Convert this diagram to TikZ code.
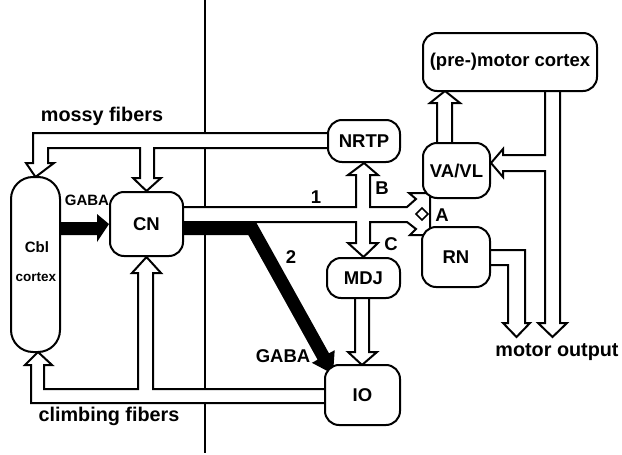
\documentclass[tikz,border=0pt]{standalone}
\usepackage{fontspec}
\setmainfont{Liberation Sans}
\pgfdeclarelayer{back}
\pgfdeclarelayer{bg}
\pgfsetlayers{back,bg,main}
\begin{document}
\begin{tikzpicture}[x=1pt,y=-1pt,line width=2pt,line join=miter,
  bigfont/.style={font=\bfseries\fontsize{18.5}{20}\selectfont},
  box/.style={draw,fill=white,line width=2pt,rounded corners=14pt,inner sep=0pt,bigfont},
  band/.style={draw=black,fill=white,line width=2pt,line join=miter},
  blackband/.style={fill=black},
  lab/.style={inner sep=0pt,bigfont},
  widelab/.style={inner sep=0pt,font=\bfseries\fontsize{19.8}{21}\selectfont},
  smalllab/.style={inner sep=0pt,font=\bfseries\fontsize{15}{17}\selectfont}]
\useasboundingbox (0,0) rectangle (622,455);

% nodes
\node[box,rounded corners=22pt,minimum width=49pt,minimum height=175pt] (Cbl) at (35.5,264.5) {};
\node[smalllab] (cbltxt) at (37,247) {Cbl};
\node[inner sep=0pt,font=\bfseries\fontsize{13.5}{15}\selectfont] (cortextxt) at (36,277) {cortex};
\node[box,minimum width=73pt,minimum height=64pt] (CN) at (146.5,224) {CN};
\node[box,minimum width=72pt,minimum height=42pt] (NRTP) at (364,141) {NRTP};
\node[box,minimum width=73pt,minimum height=40pt] (MDJ) at (363.5,278) {MDJ};
\node[box,minimum width=75pt,minimum height=60pt] (IO) at (362.5,395) {IO};
\node[box,minimum width=67pt,minimum height=55pt] (VAVL) at (456.5,170.5) {VA/VL};
\node[box,minimum width=68pt,minimum height=60pt] (RN) at (456,257) {RN};
\node[box,minimum width=174pt,minimum height=58pt] (PM) at (510,62) {(pre-)motor cortex};

% labels
\node[widelab] (mossy) at (102,116) {mossy fibers};
\node[widelab] (climbing) at (109,416) {climbing fibers};
\node[smalllab] (gaba1) at (87,200) {GABA};
\node[lab] (gaba2) at (283,356) {GABA};
\node[lab] (one) at (316,197) {1};
\node[lab] (two) at (291,257) {2};
\node[lab] (Blab) at (382,188) {B};
\node[lab] (Clab) at (391,244) {C};
\node[lab] (Alab) at (442,215) {A};
\node[widelab] (motorout) at (557,352) {motor output};

% midline
\begin{pgfonlayer}{back}
\draw[line width=2pt] (205,0) -- (205,453);
\end{pgfonlayer}

\begin{pgfonlayer}{bg}
% mossy fibers
\draw[band] (340,133) -- (33,133) -- (33,163) -- (26,163) -- (40,177 -| Cbl.north) -- (54,163) -- (48,163)
  -- (48,148) -- (140,148) -- (140,178) -- (133,178) -- (CN.north) -- (161,178) -- (154,178)
  -- (154,148) -- (340,148) -- cycle;
% climbing fibers
\draw[band] (335,403) -- (31,403) -- (31,365) -- (25,365) -- (38,352) -- (52,365) -- (44,365)
  -- (44,389) -- (138,389) -- (138,273) -- (132,273) -- (CN.south) -- (161,273) -- (153,273)
  -- (153,389) -- (335,389) -- cycle;
% path 1 with B / C
\draw[band] (175,207) -- (356,207) -- (356,175) -- (348,175) -- (NRTP.south) -- (378,175) -- (370,175)
  -- (370,207) -- (407,207) -- (416,199) -- (409,193) -- (430,193) -- (430,235) -- (410,235)
  -- (416,229) -- (407,222) -- (370,222) -- (370,243) -- (378,243) -- (MDJ.north) -- (348,243)
  -- (356,243) -- (356,222) -- (175,222) -- cycle;
\draw[line width=1.5pt] (422,208) -- (428,214) -- (422,220) -- (416,214) -- cycle;
% path 2 (black)
\fill[blackband] (175,221) -- (255.4,221) -- (329,353.3) -- (334.7,350.2) -- (333,374) -- (311.9,362.8)
  -- (317.6,359.7) -- (248.3,235) -- (175,235) -- cycle;
% Cbl -> CN
\fill[blackband] (55,222) -- (97,222) -- (97,214) -- (CN.west) -- (97,242) -- (97,235) -- (55,235) -- cycle;
% MDJ -> IO
\draw[band] (355,290) -- (355,352) -- (348,352) -- (362,365) -- (377,352) -- (369,352) -- (369,290) -- cycle;
% VA/VL -> premotor
\draw[band] (437,150) -- (437,103) -- (430,103) -- (445,91) -- (460,103) -- (452,103) -- (452,150) -- cycle;
% premotor -> VA/VL and motor output
\draw[band] (545,85) -- (545,155) -- (503,155) -- (503,149) -- (VAVL.east |- 0,163) -- (503,177) -- (503,171)
  -- (545,171) -- (545,323) -- (538,323) -- (552.5,337) -- (567,323) -- (560,323) -- (560,85) -- cycle;
% RN -> motor output
\draw[band] (482,250) -- (525,250) -- (525,323) -- (530,323) -- (516.5,337) -- (503,323) -- (508,323)
  -- (508,265) -- (482,265) -- cycle;
\end{pgfonlayer}
\end{tikzpicture}
\end{document}
